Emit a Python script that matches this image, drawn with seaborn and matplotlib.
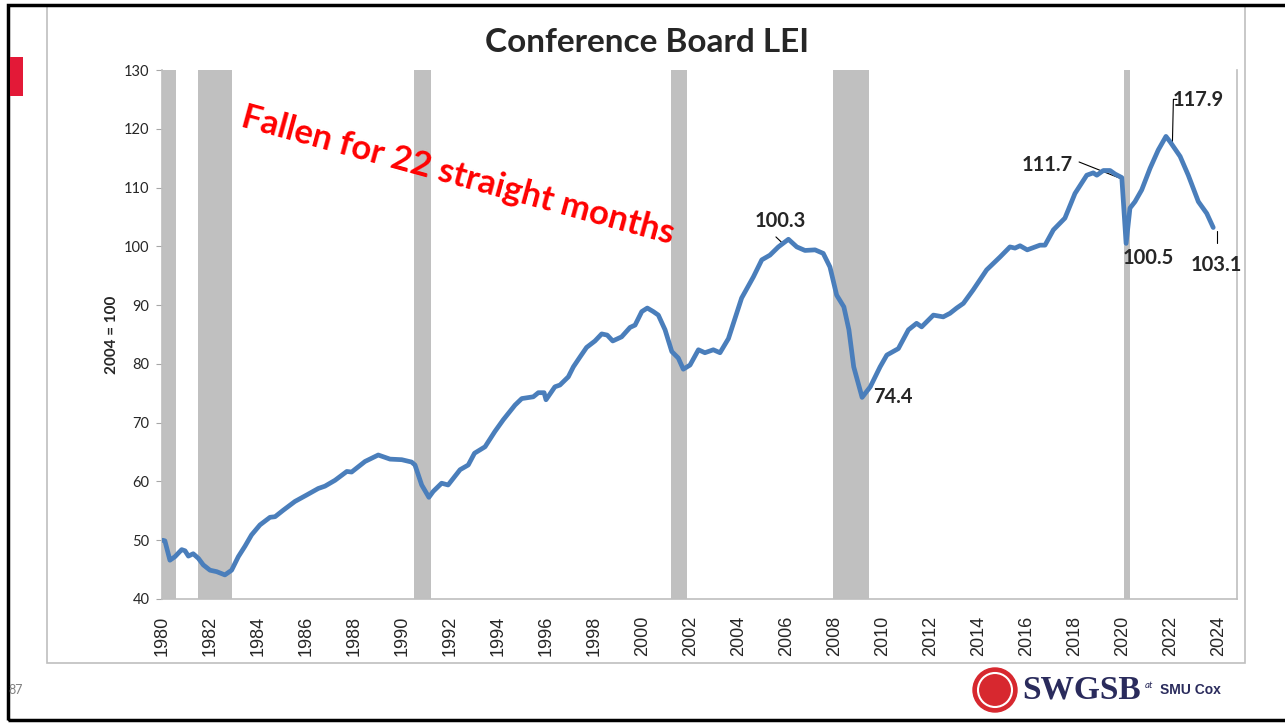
import numpy as np
import pandas as pd
import seaborn as sns
import matplotlib.pyplot as plt
from matplotlib.patches import Rectangle, Circle

# Conference Board LEI (2004 = 100)
years = [1980.00, 1980.10, 1980.31, 1980.52, 1980.80, 1980.94, 1981.08, 1981.28, 1981.50, 1981.70,
         1981.98, 1982.26, 1982.60, 1982.88, 1983.16, 1983.44, 1983.71, 1984.06, 1984.48, 1984.69,
         1985.03, 1985.52, 1986.01, 1986.49, 1986.77, 1987.19, 1987.68, 1987.88, 1988.44, 1988.99,
         1989.48, 1989.97, 1990.38, 1990.52, 1990.80, 1991.10, 1991.28, 1991.63, 1991.90, 1992.40,
         1992.74, 1993.00, 1993.44, 1993.85, 1994.20, 1994.69, 1994.97, 1995.45, 1995.66, 1995.90,
         1995.98, 1996.35, 1996.56, 1996.91, 1997.12, 1997.40, 1997.67, 1998.02, 1998.30, 1998.53,
         1998.76, 1999.13, 1999.48, 1999.69, 1999.97, 2000.20, 2000.45, 2000.66, 2000.94, 2001.22,
         2001.49, 2001.70, 2001.98, 2002.33, 2002.60, 2002.95, 2003.23, 2003.58, 2004.13, 2004.62,
         2004.97, 2005.31, 2005.66, 2006.08, 2006.43, 2006.77, 2007.19, 2007.53, 2007.81, 2008.09,
         2008.39, 2008.60, 2008.80, 2009.15, 2009.49, 2009.90, 2010.18, 2010.66, 2011.08, 2011.42,
         2011.63, 2012.12, 2012.53, 2012.81, 2013.09, 2013.37, 2013.78, 2014.34, 2014.90, 2015.31,
         2015.52, 2015.73, 2016.03, 2016.56, 2016.77, 2017.12, 2017.60, 2018.02, 2018.51, 2018.78,
         2018.93, 2019.20, 2019.48, 2019.69, 2019.97, 2020.15, 2020.31, 2020.52, 2020.80, 2021.15,
         2021.49, 2021.81, 2021.98, 2022.40, 2022.74, 2023.16, 2023.51, 2023.78]
lei = [50.0, 49.9, 46.6, 47.2, 48.4, 48.2, 47.3, 47.7, 46.9, 45.8,
       44.9, 44.65, 44.1, 44.9, 47.2, 49.0, 50.9, 52.6, 53.9, 54.0,
       55.1, 56.6, 57.7, 58.8, 59.2, 60.2, 61.7, 61.6, 63.4, 64.5,
       63.8, 63.7, 63.3, 62.8, 59.4, 57.3, 58.3, 59.7, 59.4, 62.0,
       62.8, 64.8, 65.9, 68.5, 70.5, 73.0, 74.1, 74.4, 75.1, 75.1,
       73.9, 76.1, 76.4, 77.8, 79.5, 81.2, 82.8, 83.9, 85.1, 84.9,
       83.9, 84.6, 86.2, 86.6, 88.9, 89.5, 88.9, 88.3, 85.8, 82.1,
       81.0, 79.1, 79.8, 82.4, 81.9, 82.4, 81.9, 84.3, 91.2, 94.8,
       97.7, 98.5, 99.9, 101.2, 99.9, 99.3, 99.4, 98.8, 96.5, 91.7,
       89.7, 85.8, 79.5, 74.3, 76.1, 79.5, 81.5, 82.6, 85.8, 86.9,
       86.3, 88.3, 88.0, 88.6, 89.5, 90.3, 92.6, 96.0, 98.2, 99.9,
       99.7, 100.1, 99.4, 100.2, 100.2, 102.8, 104.8, 109.0, 112.1, 112.5,
       112.1, 112.9, 112.9, 112.3, 111.7, 100.5, 106.5, 107.6, 109.6, 113.3,
       116.4, 118.7, 117.8, 115.3, 112.1, 107.6, 105.6, 103.2]

# recessions (start, end)
rec_start = [1980.0, 1981.5, 1990.5, 2001.17, 2007.92, 2020.08]
rec_end = [1980.55, 1982.9, 1991.2, 2001.87, 2009.45, 2020.3]

# point labels: text, x, y, ha
lbl_text = ["100.3", "74.4", "111.7", "100.5", "117.9", "103.1"]
lbl_x = [2005.73, 2009.6, 2017.94, 2021.06, 2022.1, 2023.9]
lbl_y = [104.3, 74.4, 113.8, 98.1, 124.9, 96.8]
lbl_ha = ["center", "left", "right", "center", "left", "center"]

df = pd.DataFrame({"year": years, "lei": lei})

sns.set_style("white")
plt.rcParams['font.family'] = ['Lato', 'DejaVu Sans']

W, H = 1285, 723
fig = plt.figure(figsize=(W / 100, H / 100), dpi=100)

def px(x, y):
    return (x / W, 1 - y / H)

# slide decorations
fig.patches.append(Rectangle(px(47, 663), (1245 - 47) / W, (663 - 5) / H, transform=fig.transFigure,
                             fill=False, edgecolor="#BFBFBF", lw=1.2, zorder=0))
fig.patches.append(Rectangle(px(8, 720), (1300 - 8) / W, (720 - 5) / H, transform=fig.transFigure,
                             fill=False, edgecolor="black", lw=2.5, zorder=0))
fig.patches.append(Rectangle(px(10, 96), 13 / W, 39 / H, transform=fig.transFigure,
                             color="#E31937", lw=0))

l, b = px(162, 599)
r, t = px(1237, 70)
ax = fig.add_axes([l, b, r - l, t - b])

for s, e in zip(rec_start, rec_end):
    ax.axvspan(s, e, color="#C0C0C0", lw=0, zorder=0)

sns.lineplot(data=df, x="year", y="lei", ax=ax, color="#4A7EBB", lw=3.4, zorder=3)

ax.set_xlim(1979.98, 2024.77)
ax.set_ylim(40, 130)
ax.set_xticks(np.arange(1980, 2025, 2))
ax.set_xticklabels([str(y) for y in range(1980, 2025, 2)], rotation=90,
                   family="Liberation Sans", fontsize=13)
ax.set_yticks(np.arange(40, 131, 10))
ax.tick_params(axis="y", labelsize=10.5, length=4, color="#A6A6A6", pad=5, left=True)
ax.tick_params(axis="x", length=0, pad=12)
ax.set_xlabel("")
ax.set_ylabel("")
for side in ["left", "bottom", "right"]:
    ax.spines[side].set_color("#BFBFBF")
    ax.spines[side].set_linewidth(1.2)
ax.spines["top"].set_visible(False)

for txt, x, y, ha in zip(lbl_text, lbl_x, lbl_y, lbl_ha):
    ax.text(x, y, txt, ha=ha, va="center", fontsize=14.5, fontweight="bold", zorder=5)

# leader lines
ax.plot([2005.56, 2005.87], [101.6, 100.4], color="black", lw=0.8)
ax.plot([2018.19, 2019.98], [114.35, 111.45], color="black", lw=0.8)
ax.plot([2022.27, 2022.12, 2022.08], [125.0, 125.0, 117.8], color="black", lw=0.8)
ax.plot([2023.94, 2023.94], [102.6, 100.6], color="black", lw=0.8)

ax.text(1992.3, 112.1, "Fallen for 22 straight months", color="#FF0000", fontsize=25,
        fontweight="bold", rotation=-15.3, ha="center", va="center", rotation_mode="anchor")

fig.text(*px(647, 42), "Conference Board LEI", ha="center", va="center",
         fontsize=24, fontweight="bold")
fig.text(*px(112, 335), "2004 = 100", rotation=90, ha="center", va="center",
         fontsize=11, fontweight="bold")
fig.text(*px(16, 690), "87", ha="center", va="center", fontsize=9, color="#7F7F7F")

# logo
fig.patches.append(Circle((995, H - 690), 22, transform=None, color="#D7282F"))
fig.patches.append(Circle((995, H - 690), 17, transform=None, fill=False, edgecolor="white", lw=1.5))
fig.text(*px(1022, 690), "SWGSB", ha="left", va="center", fontsize=24, fontweight="bold",
         family="Liberation Serif", color="#2A2B5C")
fig.text(*px(1145, 686), "at", ha="left", va="center", fontsize=7, style="italic", color="#2A2B5C")
fig.text(*px(1160, 690), "SMU Cox", ha="left", va="center", fontsize=10, fontweight="bold",
         family="Liberation Sans", color="#2A2B5C")

fig.savefig("out.png", dpi=100)
plt.close(fig)
